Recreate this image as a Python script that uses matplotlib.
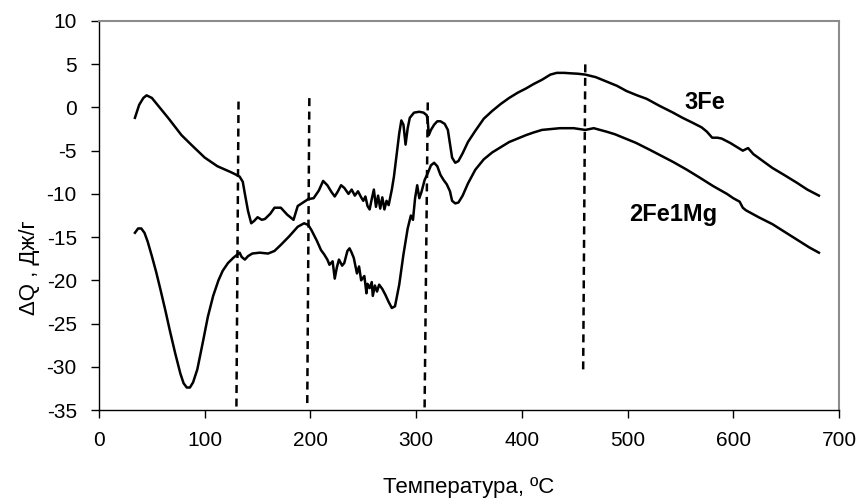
import matplotlib
matplotlib.use("Agg")
import matplotlib.pyplot as plt

plt.rcParams['font.family'] = ['Liberation Sans', 'DejaVu Sans']
plt.rcParams['axes.unicode_minus'] = False

# 3Fe curve (upper at high temperature)
t_3fe = [34, 38, 42, 45, 50, 58, 66, 78, 88, 100, 112, 125, 130, 133, 136, 138,
         141, 144, 147, 150, 154, 157, 162, 166, 172, 178, 184, 188, 193, 198, 203,
         208, 212, 216, 220, 223, 226, 229, 232, 236, 239, 242, 245, 248, 250, 252,
         254, 256, 258, 260, 262, 264, 266, 268, 270, 272, 274, 277, 279, 282, 284,
         286, 288, 290, 292, 294, 298, 303, 307, 310, 311, 312, 314, 317, 320, 323,
         327, 330, 332, 334, 337, 340, 344, 349, 356, 364, 372, 380, 388, 396, 404,
         411, 419, 427, 433, 440, 446, 453, 460, 470, 480, 490, 499, 509, 518, 530,
         543, 552, 562, 570, 575, 580, 585, 589, 597, 605, 609, 614, 619, 628, 637,
         648, 660, 670, 681]
q_3fe = [-1.2, 0.3, 1.1, 1.4, 1.1, -0.1, -1.3, -3.2, -4.4, -5.8, -6.8, -7.5, -7.8, -8.0, -8.6, -10.0,
         -12.0, -13.4, -13.1, -12.7, -13.0, -12.9, -12.3, -11.6, -11.6, -12.4, -13.0, -11.4, -11.0, -10.6, -10.5,
         -9.6, -8.5, -9.0, -9.8, -10.3, -9.7, -9.0, -9.3, -10.0, -9.5, -10.2, -9.7, -10.4, -10.8, -10.3,
         -11.4, -11.8, -10.6, -9.5, -11.5, -10.2, -11.7, -10.4, -11.8, -10.8, -11.3, -9.5, -8.0, -5.0, -3.0,
         -1.5, -2.0, -4.3, -2.4, -1.2, -0.6, -0.5, -0.6, -0.9, -1.6, -3.2, -2.6, -2.0, -1.6, -1.6,
         -1.9, -2.6, -4.2, -5.8, -6.4, -6.2, -5.3, -4.0, -2.7, -1.3, -0.4, 0.4, 1.1, 1.7, 2.2,
         2.7, 3.2, 3.8, 4.0, 4.0, 3.95, 3.9, 3.8, 3.5, 3.0, 2.5, 1.9, 1.4, 1.0, 0.2,
         -0.6, -1.2, -1.8, -2.3, -2.8, -3.5, -3.5, -3.6, -4.1, -4.7, -5.0, -4.7, -5.4, -6.2, -7.0,
         -7.8, -8.7, -9.5, -10.2]

# 2Fe1Mg curve (lower at high temperature)
t_mg = [34, 37, 40, 43, 46, 50, 54, 58, 63, 67, 72, 77, 80, 83, 86, 89, 93, 98, 103,
        108, 113, 117, 122, 127, 131, 133, 135, 138, 141, 145, 152, 160, 166, 172, 180,
        188, 194, 198, 201, 206, 210, 213, 216, 218, 221, 223, 225, 227, 230, 232, 235,
        237, 239, 241, 244, 246, 248, 251, 253, 254, 256, 258, 259, 261, 263, 265, 268,
        271, 274, 277, 280, 284, 288, 292, 295, 297, 299, 301, 303, 305, 308, 311, 314,
        317, 320, 323, 326, 329, 332, 334, 337, 340, 344, 349, 356, 364, 372, 380, 388,
        396, 404, 411, 419, 427, 436, 449, 460, 468, 480, 488, 496, 508, 521, 532, 543,
        556, 568, 581, 594, 600, 606, 609, 612, 624, 637, 650, 663, 672, 681]
q_mg = [-14.5, -14.0, -14.0, -14.5, -15.5, -17.2, -19.0, -21.0, -23.6, -25.8, -28.4, -30.8, -31.9, -32.4, -32.4, -31.8, -30.3, -27.3, -24.2,
        -21.8, -20.0, -18.9, -18.0, -17.4, -17.0, -16.8, -17.3, -17.6, -17.2, -16.9, -16.8, -16.9, -16.6, -15.9, -14.9,
        -13.8, -13.4, -13.6, -14.2, -15.4, -16.5, -17.0, -17.6, -18.2, -17.8, -19.8, -18.5, -17.6, -18.3, -18.0, -16.6,
        -16.3, -16.8, -17.4, -19.2, -18.4, -20.0, -19.5, -21.5, -20.4, -20.9, -20.2, -21.8, -20.6, -21.3, -20.5, -21.0,
        -21.7, -22.5, -23.2, -23.0, -20.5, -17.0, -14.0, -12.5, -13.0, -10.5, -9.0, -10.5, -9.8, -8.4, -7.6, -6.7,
        -6.4, -6.8, -7.8, -8.4, -8.9, -9.7, -10.8, -11.1, -11.0, -10.2, -8.8, -7.2, -6.0, -5.2, -4.6, -4.0,
        -3.6, -3.2, -2.9, -2.6, -2.5, -2.4, -2.4, -2.6, -2.4, -2.8, -3.1, -3.5, -4.1, -4.9, -5.6, -6.3,
        -7.2, -8.1, -9.1, -10.0, -10.5, -10.9, -11.6, -11.9, -12.7, -13.5, -14.5, -15.5, -16.2, -16.8]

# vertical dashed markers: x at bottom, x at top, y bottom, y top
dash_x_bottom = [130, 197, 308, 458]
dash_x_top = [132, 199, 311, 460]
dash_y_bottom = [-34.6, -34.2, -34.7, -30.3]
dash_y_top = [1.1, 1.6, 0.6, 5.0]

fig = plt.figure(figsize=(8.61, 5.04), dpi=100)
ax = fig.add_axes([99 / 861, 1 - 410 / 504, 740 / 861, 389 / 504])

ax.plot(t_3fe, q_3fe, color='black', lw=1.8)
ax.plot(t_mg, q_mg, color='black', lw=1.8)

for xb, xt, yb, yt in zip(dash_x_bottom, dash_x_top, dash_y_bottom, dash_y_top):
    ax.plot([xb, xt], [yb, yt], color='black', lw=1.8, linestyle=(0, (3.2, 2.2)))

ax.text(573, 0.6, '3Fe', fontsize=17, fontweight='bold', ha='center', va='center')
ax.text(543, -12.4, '2Fe1Mg', fontsize=17, fontweight='bold', ha='center', va='center')

ax.set_xlim(0, 700)
ax.set_ylim(-35, 10)
ax.set_xticks(range(0, 701, 100))
ax.set_yticks(range(-35, 11, 5))
ax.tick_params(labelsize=15, length=6, width=1, direction='out', colors='black')
ax.tick_params(axis='y', pad=10)
ax.tick_params(axis='x', pad=9)
for s in ['top', 'right']:
    ax.spines[s].set_color('#8c8c8c')
    ax.spines[s].set_linewidth(1.5)
for s in ['left', 'bottom']:
    ax.spines[s].set_color('black')
    ax.spines[s].set_linewidth(1)

fig.text(469 / 861, 1 - 487 / 504, 'Температура, ºС', fontsize=16, ha='center', va='center')
fig.text(29 / 861, 1 - 268 / 504, 'ΔQ , Дж/г', fontsize=16, ha='center', va='center', rotation=90)

fig.savefig('out.png', dpi=100)
